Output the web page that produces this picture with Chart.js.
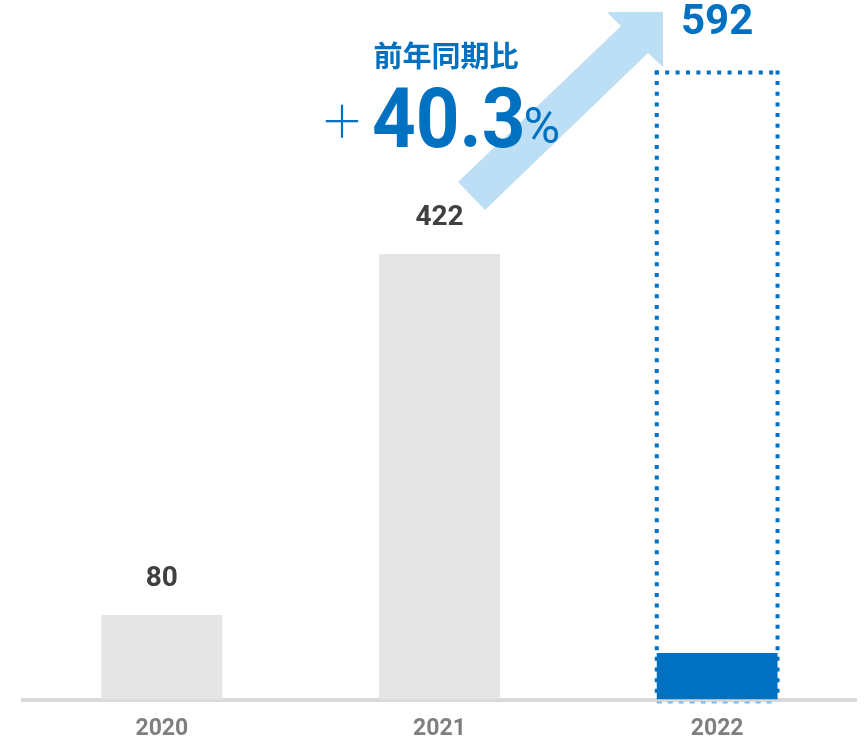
<!DOCTYPE html>
<html><head><meta charset="utf-8">
<script src="https://cdn.jsdelivr.net/npm/chart.js@4.4.0/dist/chart.umd.min.js"></script>
<style>html,body{margin:0;padding:0;background:#fff;} #wrap{width:864px;height:742px;}</style>
</head><body><div id="wrap"><canvas id="c" width="864" height="742"></canvas></div>
<script>
const categories = ['2020', '2021', '2022'];
const actualValues = [80, 422, 44];
const forecastValues = [null, null, 592];
const valueLabels = ['80', '422', '592'];
const yoyTitle = '前年同期比';
const yoySign = '＋';
const yoyValue = '40.3';
const yoyUnit = '%';

const BLUE = '#0070c0';
const GREY_BAR = '#e5e5e5';
const ARROW = '#bddff6';
const NUM_FONT = 'Roboto, "Liberation Sans", sans-serif';
const JP_FONT = '"Noto Sans CJK JP", sans-serif';

function dottedLine(ctx, x1, y1, x2, y2, dot, pitch) {
  const len = Math.hypot(x2 - x1, y2 - y1);
  const n = Math.max(1, Math.round(len / pitch));
  const p = len / n;
  ctx.setLineDash([dot, p - dot]);
  ctx.beginPath();
  ctx.moveTo(x1, y1);
  ctx.lineTo(x2, y2);
  ctx.stroke();
}

const overlay = {
  id: 'overlay',
  beforeDatasetsDraw(chart) {
    const ctx = chart.ctx;
    // growth arrow annotation
    ctx.save();
    ctx.fillStyle = ARROW;
    ctx.beginPath();
    ctx.moveTo(458, 182);
    ctx.lineTo(621, 26);
    ctx.lineTo(607, 12);
    ctx.lineTo(663, 12);
    ctx.lineTo(663, 67);
    ctx.lineTo(648, 53);
    ctx.lineTo(485, 210);
    ctx.closePath();
    ctx.fill();
    ctx.restore();
  },
  afterDatasetsDraw(chart) {
    const ctx = chart.ctx;
    const meta0 = chart.getDatasetMeta(0);
    const meta1 = chart.getDatasetMeta(1);
    ctx.save();
    // dotted outline for the full-year figure
    const e = meta1.data[2];
    const l = e.x - e.width / 2, r = e.x + e.width / 2;
    const t = e.y - 2, b = e.base;
    ctx.strokeStyle = BLUE;
    ctx.lineWidth = 4;
    ctx.lineCap = 'butt';
    dottedLine(ctx, l - 2, t, r + 2, t, 4, 10.7);
    dottedLine(ctx, l, t - 2, l, b, 4, 10.7);
    dottedLine(ctx, r, t - 2, r, b, 4, 10.7);
    ctx.strokeStyle = '#7fb6e6';
    ctx.lineWidth = 2;
    dottedLine(ctx, l, b + 3, r, b + 3, 5, 10.7);
    ctx.setLineDash([]);

    // value labels
    ctx.textAlign = 'center';
    ctx.textBaseline = 'middle';
    meta0.data.forEach((el, i) => {
      if (forecastValues[i] != null) return;
      ctx.fillStyle = '#404040';
      ctx.font = 'bold 28px ' + NUM_FONT;
      ctx.fillText(valueLabels[i], el.x, el.y - 36);
    });
    meta1.data.forEach((el, i) => {
      if (forecastValues[i] == null) return;
      ctx.fillStyle = BLUE;
      ctx.font = 'bold 42px ' + NUM_FONT;
      ctx.fillText(valueLabels[i], el.x, el.y - 51);
    });

    // YoY annotation
    ctx.fillStyle = BLUE;
    ctx.textAlign = 'center';
    ctx.font = 'bold 29px ' + JP_FONT;
    ctx.fillText(yoyTitle, 446, 56);
    ctx.textAlign = 'left';
    ctx.textBaseline = 'alphabetic';
    ctx.font = '300 44px ' + JP_FONT;
    ctx.fillText(yoySign, 320, 138);
    ctx.save();
    ctx.translate(372, 147);
    ctx.scale(0.92, 1);
    ctx.font = 'bold 83px ' + NUM_FONT;
    ctx.fillText(yoyValue, 0, 0);
    const w = ctx.measureText(yoyValue).width * 0.92;
    ctx.restore();
    ctx.font = '50px ' + NUM_FONT;
    ctx.fillText(yoyUnit, 372 + w - 2, 143);
    ctx.restore();
  }
};

new Chart(document.getElementById('c'), {
  type: 'bar',
  data: {
    labels: categories,
    datasets: [
      {
        label: '実績',
        data: actualValues,
        backgroundColor: actualValues.map((v, i) => forecastValues[i] != null ? BLUE : GREY_BAR),
        barPercentage: 0.435,
        categoryPercentage: 1,
        grouped: false,
        order: 1
      },
      {
        label: '通期',
        data: forecastValues,
        backgroundColor: 'rgba(0,0,0,0)',
        barPercentage: 0.435,
        categoryPercentage: 1,
        grouped: false,
        order: 2
      }
    ]
  },
  options: {
    responsive: false,
    devicePixelRatio: 1,
    animation: false,
    layout: { padding: { left: 23, right: 8, top: 0, bottom: -16.5 } },
    plugins: { legend: { display: false }, tooltip: { enabled: false } },
    scales: {
      y: { display: false, min: 0, max: 662.5 },
      x: {
        grid: { display: false, drawTicks: false },
        border: { display: true, color: '#d9d9d9', width: 4 },
        ticks: { color: '#7f7f7f', font: { family: NUM_FONT, size: 23, weight: 'bold' }, padding: 15.7 }
      }
    }
  },
  plugins: [overlay]
});
</script>
</body></html>
